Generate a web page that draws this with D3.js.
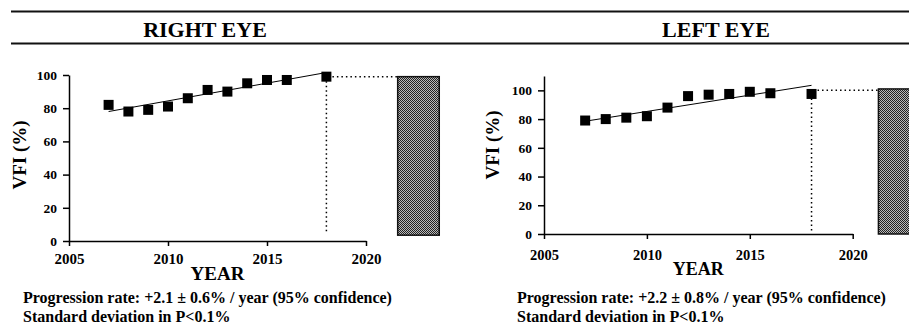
<!DOCTYPE html>
<html>
<head>
<meta charset="utf-8">
<script src="https://cdn.jsdelivr.net/npm/d3@7"></script>
<style>
  body { margin: 0; background: #fff; }
  svg { display: block; }
  text { font-family: "Liberation Serif", "Times New Roman", serif; font-weight: bold; fill: #000; }
</style>
</head>
<body>
<svg id="chart" width="909" height="327"></svg>
<script>
// data
var years = [2007, 2008, 2009, 2010, 2011, 2012, 2013, 2014, 2015, 2016, 2018];
var rightVfi = [82, 78, 79, 81, 86, 91, 90, 95, 97, 97, 99];
var leftVfi = [79, 80, 81, 82, 88, 96, 97, 97.5, 99, 98, 97.5];
var xTicks = [2005, 2010, 2015, 2020];
var rightYTicks = [0, 20, 40, 60, 80, 100];
var leftYTicks = [0, 20, 40, 60, 80, 100];
// trend line ends [year, vfi]
var rightTrend = [[2007, 78], [2018, 101.5]];
var leftTrend = [[2007, 78.5], [2018, 103.5]];
// reference level (dotted) and bar [x0, x1, y0, y1]
var rightRefLevel = 99;
var leftRefLevel = 100;
var rightBox = [2021.6, 2023.7, 3.5, 99];
var leftBox = [2021.25, 2023.3, 0, 101];
var rightDropTo = 4.5;
var leftDropTo = 1.5;
var rightCaption = ['Progression rate: +2.1 \u00b1 0.6% / year (95% confidence)', 'Standard deviation in P<0.1%'];
var leftCaption = ['Progression rate: +2.2 \u00b1 0.8% / year (95% confidence)', 'Standard deviation in P<0.1%'];

var svg = d3.select('#chart');

// checker fill for the bar
var pat = svg.append('defs').append('pattern')
  .attr('id', 'checker')
  .attr('patternUnits', 'userSpaceOnUse')
  .attr('width', 2).attr('height', 2);
pat.append('rect').attr('width', 2).attr('height', 2).attr('fill', '#bbb');
pat.append('rect').attr('width', 1).attr('height', 1).attr('fill', '#222');
pat.append('rect').attr('x', 1).attr('y', 1).attr('width', 1).attr('height', 1).attr('fill', '#222');

// header rules
[11.5, 43.5].forEach(function(y) {
  svg.append('line')
    .attr('x1', 11).attr('x2', 909)
    .attr('y1', y).attr('y2', y)
    .attr('stroke', '#111').attr('stroke-width', 2);
});

function drawPanel(opt) {
  var x = d3.scaleLinear().domain([2005, 2020]).range(opt.xRange);
  var y = d3.scaleLinear().domain([0, opt.yMax]).range(opt.yRange);
  var g = svg.append('g');

  svg.append('text')
    .attr('x', opt.titleX).attr('y', 37)
    .attr('text-anchor', 'middle')
    .style('font-size', '22px')
    .text(opt.title);

  var xAxis = g.append('g')
    .attr('transform', 'translate(0,' + opt.yRange[0] + ')')
    .call(d3.axisBottom(x).tickValues(xTicks).tickFormat(d3.format('d')).tickSize(5).tickSizeOuter(0));
  xAxis.selectAll('text')
    .attr('dy', null).attr('y', opt.xLabelY)
    .style('font-size', opt.xLabelSize);

  var yAxis = g.append('g')
    .attr('transform', 'translate(' + opt.xRange[0] + ',0)')
    .call(d3.axisLeft(y).tickValues(opt.yTicks).tickSize(6).tickPadding(6).tickSizeOuter(0));
  yAxis.selectAll('text')
    .style('font-size', '13.5px');

  g.selectAll('.domain, .tick line').attr('stroke', '#000').attr('stroke-width', 1.5);
  g.selectAll('.tick text').style('font-family', '"Liberation Serif", serif').style('font-weight', 'bold');

  // trend
  g.append('path')
    .attr('d', d3.line().x(function(d) { return x(d[0]); }).y(function(d) { return y(d[1]); })(opt.trend))
    .attr('fill', 'none').attr('stroke', '#000').attr('stroke-width', 1);

  var last = years.length - 1;
  // dotted guides
  g.append('line')
    .attr('x1', x(years[last])).attr('x2', x(years[last]))
    .attr('y1', y(opt.values[last])).attr('y2', y(opt.dropTo))
    .attr('stroke', '#000').attr('stroke-width', 1.5).attr('stroke-dasharray', '1.5,3');
  g.append('line')
    .attr('x1', x(years[last]) + 6).attr('x2', x(opt.box[0]))
    .attr('y1', y(opt.refLevel)).attr('y2', y(opt.refLevel))
    .attr('stroke', '#000').attr('stroke-width', 1.5).attr('stroke-dasharray', '1.5,3');

  // bar
  g.append('rect')
    .attr('x', x(opt.box[0])).attr('width', x(opt.box[1]) - x(opt.box[0]))
    .attr('y', y(opt.box[3])).attr('height', y(opt.box[2]) - y(opt.box[3]))
    .attr('fill', 'url(#checker)').attr('stroke', '#111').attr('stroke-width', 1.5);

  // points
  g.selectAll('rect.pt')
    .data(opt.values)
    .enter()
    .append('rect')
    .attr('class', 'pt')
    .attr('x', function(d, i) { return x(years[i]) - 5; })
    .attr('y', function(d) { return y(d) - 5; })
    .attr('width', 10).attr('height', 10)
    .attr('fill', '#000');

  // axis titles
  svg.append('text')
    .attr('transform', 'translate(' + opt.yTitle[0] + ',' + opt.yTitle[1] + ') rotate(-90)')
    .attr('text-anchor', 'middle')
    .style('font-size', '19px')
    .text('VFI (%)');
  svg.append('text')
    .attr('x', (opt.xRange[0] + opt.xRange[1]) / 2).attr('y', opt.yearY)
    .attr('text-anchor', 'middle')
    .style('font-size', opt.yearSize)
    .text('YEAR');

  // caption
  opt.caption.forEach(function(t, i) {
    svg.append('text')
      .attr('x', opt.captionX).attr('y', 303 + i * 19)
      .style('font-size', '16px')
      .text(t);
  });
}

drawPanel({
  title: 'RIGHT EYE', titleX: 205,
  xRange: [69, 366], yRange: [241, 75], yMax: 100, yTicks: rightYTicks,
  values: rightVfi, trend: rightTrend, refLevel: rightRefLevel, box: rightBox, dropTo: rightDropTo,
  xLabelY: 23, xLabelSize: '15px', yTitle: [26, 155], yearY: 280, yearSize: '19px',
  caption: rightCaption, captionX: 23
});

drawPanel({
  title: 'LEFT EYE', titleX: 716,
  xRange: [544, 852.7], yRange: [234, 76], yMax: 110, yTicks: leftYTicks,
  values: leftVfi, trend: leftTrend, refLevel: leftRefLevel, box: leftBox, dropTo: leftDropTo,
  xLabelY: 26, xLabelSize: '14.5px', yTitle: [499, 145], yearY: 275, yearSize: '18px',
  caption: leftCaption, captionX: 517
});
</script>
</body>
</html>
